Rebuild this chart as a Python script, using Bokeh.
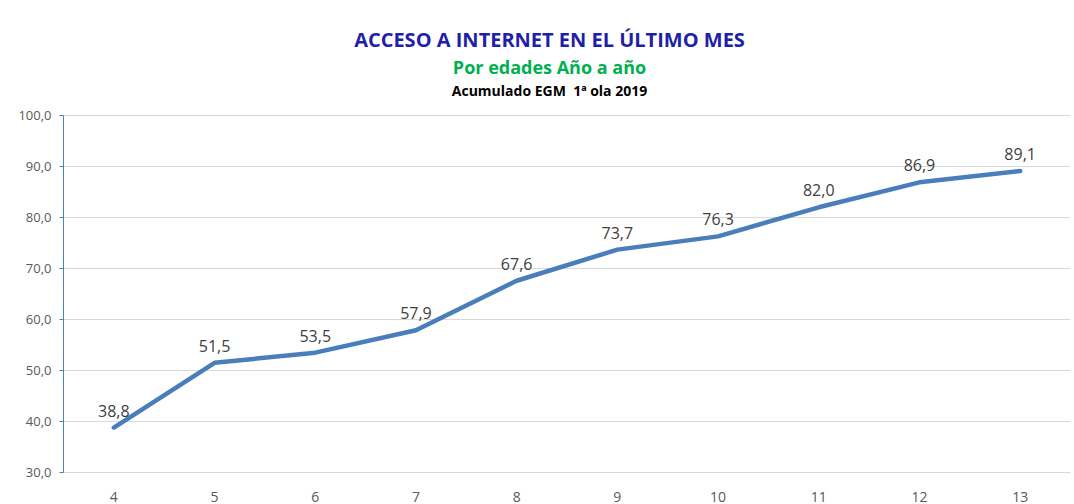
from bokeh.plotting import figure
from bokeh.models import Range1d, FixedTicker, CustomJSTickFormatter, ColumnDataSource, LabelSet
from bokeh.core.properties import value
from bokeh.embed import file_html
from bokeh.resources import INLINE

ages = [4, 5, 6, 7, 8, 9, 10, 11, 12, 13]
values = [38.8, 51.5, 53.5, 57.9, 67.6, 73.7, 76.3, 82.0, 86.9, 89.1]
labels = [f"{v:.1f}".replace(".", ",") for v in values]
y_ticks = [30, 40, 50, 60, 70, 80, 90, 100]

title_main = "ACCESO A INTERNET EN EL ÚLTIMO MES"
title_sub = "Por edades Año a año"
title_src = "Acumulado EGM\u00a0 1ª ola 2019"

FONT = "Open Sans"
W, H = 1072, 504
FR_LEFT, FR_RIGHT, FR_BOTTOM = 63, 1070, 472
PX_PER_Y = (472 - 115) / 70.0
YTOP = 30 + FR_BOTTOM / PX_PER_Y
PX_PER_X = (FR_RIGHT - FR_LEFT) / 10.0

p = figure(width=W, height=H, output_backend="svg", toolbar_location=None,
           x_range=Range1d(3.5, 13.5), y_range=Range1d(30, YTOP),
           min_border_left=FR_LEFT, min_border_right=W - FR_RIGHT, min_border_top=0,
           min_border_bottom=H - FR_BOTTOM)
p.outline_line_color = None
p.background_fill_color = "white"
p.border_fill_color = "white"

src = ColumnDataSource(dict(x=ages, y=values, lab=labels))
p.line("x", "y", source=src, line_color="#4A7EBB", line_width=4.5, line_cap="round", line_join="round")

ls = LabelSet(x="x", y="y", text="lab", source=src, x_offset=0, y_offset=11,
              text_align="center", text_baseline="bottom", text_font=value(FONT),
              text_font_size="16px", text_color="#404040")
p.add_layout(ls)

# axes
p.xaxis.ticker = FixedTicker(ticks=ages)
p.xaxis.major_label_text_font = FONT
p.xaxis.major_label_text_font_size = "14px"
p.xaxis.major_label_text_color = "#595959"
p.xaxis.major_label_standoff = 13
p.xaxis.axis_line_color = "#D9D9D9"
p.xaxis.major_tick_line_color = None
p.xaxis.minor_tick_line_color = None

p.yaxis.ticker = FixedTicker(ticks=y_ticks)
p.yaxis.bounds = (30, 100)
p.yaxis.formatter = CustomJSTickFormatter(code="return tick.toFixed(1).replace('.', ',');")
p.yaxis.major_label_text_font = FONT
p.yaxis.major_label_text_font_size = "13px"
p.yaxis.major_label_text_color = "#595959"
p.yaxis.axis_line_color = "#4F81BD"
p.yaxis.major_tick_line_color = "#4F81BD"
p.yaxis.major_tick_in = 0
p.yaxis.major_tick_out = 4
p.yaxis.minor_tick_line_color = None
p.yaxis.major_label_standoff = 8

p.xgrid.grid_line_color = None
p.ygrid.grid_line_color = "#D9D9D9"
p.ygrid.ticker = FixedTicker(ticks=y_ticks)

# titles: positioned from page pixels
def dx(px):
    return 3.5 + (px - FR_LEFT) / PX_PER_X

def dy(py):
    return 30 + (FR_BOTTOM - py) / PX_PER_Y

cx = dx(549)
p.text(x=[cx], y=[dy(39)], text=[title_main], text_align="center", text_baseline="middle",
       text_font=value(FONT), text_font_style="bold", text_font_size="20px", text_color="#1F1FA8")
p.text(x=[cx], y=[dy(66)], text=[title_sub], text_align="center", text_baseline="middle",
       text_font=value(FONT), text_font_style="bold", text_font_size="18px", text_color="#00B050")
p.text(x=[cx], y=[dy(90)], text=[title_src], text_align="center", text_baseline="middle",
       text_font=value(FONT), text_font_style="bold", text_font_size="14px", text_color="#000000")

open("out.html", "w").write(file_html(p, INLINE))
